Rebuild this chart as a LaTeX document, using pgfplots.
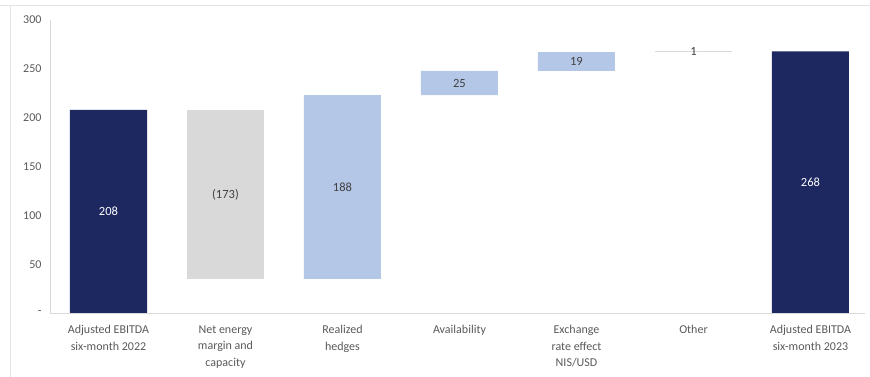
\documentclass[border=0pt]{standalone}
\usepackage{pgfplots}
\pgfplotsset{compat=1.18}
\usepackage{fontspec}
\setmainfont{Carlito}

\definecolor{navy}{HTML}{1D2760}
\definecolor{lgray}{HTML}{D9D9D9}
\definecolor{lblue}{HTML}{B4C7E7}
\definecolor{ticktxt}{HTML}{595959}
\definecolor{bartxt}{HTML}{404040}
\definecolor{axgray}{HTML}{D9D9D9}
\definecolor{framegray}{HTML}{E3E3E3}

% shared geometry of the bar axis and the label overlay
\pgfplotsset{
  wfgeom/.style={
    scale only axis, width=815pt, height=293pt,
    at={(50pt,64pt)}, anchor=south west,
    xmin=-0.5, xmax=6.466, ymin=0, ymax=300,
  },
}

\begin{document}
\begin{tikzpicture}[x=1pt,y=1pt]
  \path[use as bounding box] (0,0) rectangle (870,377);
  % light frame lines
  \draw[framegray, line width=0.8pt] (0,372) -- (870,372);
  \draw[framegray, line width=0.8pt] (10,372) -- (10,0);

  \begin{axis}[
    wfgeom,
    ybar stacked, bar width=77pt,
    axis lines*=left,
    axis line style={draw=axgray, line width=0.8pt},
    major tick length=0pt,
    ytick={0,50,100,150,200,250,300},
    yticklabels={-,50,100,150,200,250,300},
    xtick={0,1,2,3,4,5,6},
    xticklabels={
      {Adjusted EBITDA\\six-month 2022},
      {Net energy\\margin and\\capacity},
      {Realized\\hedges},
      {Availability},
      {Exchange\\rate effect\\NIS/USD},
      {Other},
      {Adjusted EBITDA\\six-month 2023}},
    ticklabel style={text=ticktxt},
    yticklabel style={xshift=-5pt, font=\fontsize{12}{14.5}\selectfont},
    xticklabel style={align=center, yshift=-9pt,
      font=\fontsize{12}{16.5}\selectfont},
  ]
    % invisible base of each floating bar
    \addplot[draw=none, fill=none] coordinates
      {(0,0) (1,35) (2,35) (3,223) (4,248) (5,267) (6,0)};
    % opening and closing totals
    \addplot[draw=none, fill=navy] coordinates
      {(0,208) (1,0) (2,0) (3,0) (4,0) (5,0) (6,268)};
    % decrease
    \addplot[draw=none, fill=lgray] coordinates
      {(0,0) (1,173) (2,0) (3,0) (4,0) (5,0) (6,0)};
    % increases
    \addplot[draw=none, fill=lblue] coordinates
      {(0,0) (1,0) (2,188) (3,25) (4,19) (5,0) (6,0)};
    \addplot[draw=none, fill=lgray] coordinates
      {(0,0) (1,0) (2,0) (3,0) (4,0) (5,1) (6,0)};
  \end{axis}

  % value labels, centred on each bar
  \begin{axis}[wfgeom, hide axis]
    \addplot[only marks, mark=none, nodes near coords,
      point meta=explicit symbolic,
      every node near coord/.append style={anchor=center, text=white,
        font=\fontsize{12.5}{15}\selectfont}]
      table[meta=label] {
        x y label
        0 104 208
        6 134 268
      };
    \addplot[only marks, mark=none, nodes near coords,
      point meta=explicit symbolic,
      every node near coord/.append style={anchor=center, text=bartxt,
        font=\fontsize{12.5}{15}\selectfont}]
      table[meta=label] {
        x y label
        1 121.5 (173)
        2 129 188
        3 235.5 25
        4 257.5 19
        5 267.5 1
      };
  \end{axis}
\end{tikzpicture}
\end{document}
